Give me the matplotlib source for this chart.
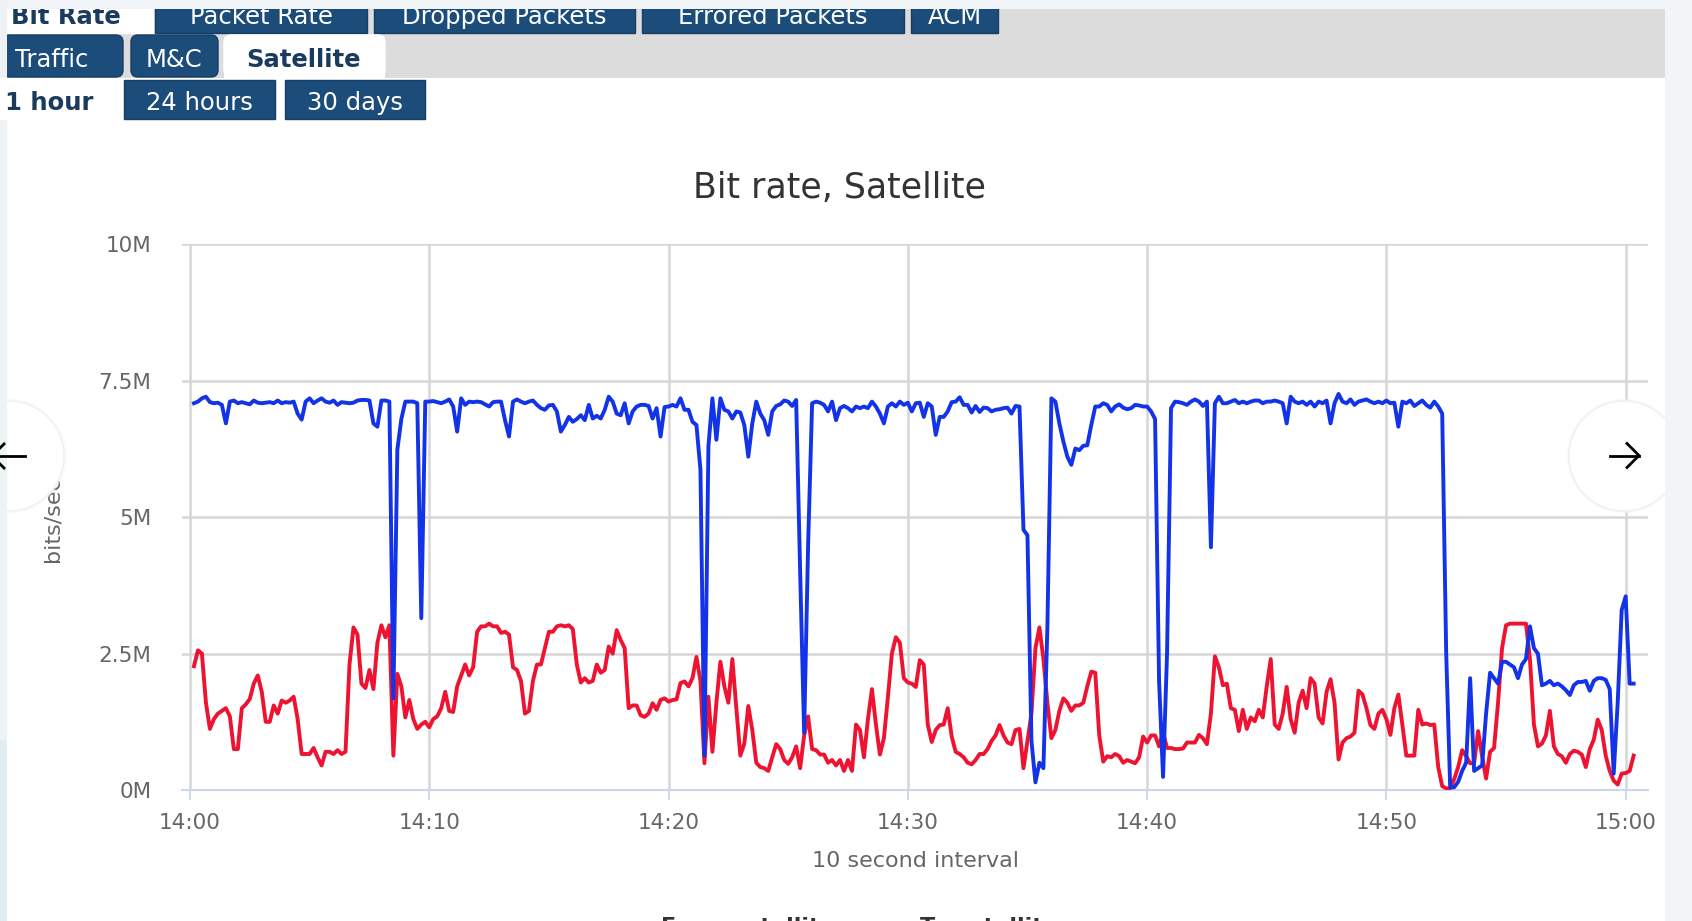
import numpy as np
import pandas as pd
import matplotlib
matplotlib.use("Agg")
import matplotlib.pyplot as plt
import matplotlib.dates as mdates
from matplotlib.patches import Rectangle, FancyBboxPatch, Circle
from matplotlib.lines import Line2D

W, H, DPI = 1692, 921, 100

# ---------------- data (Mbit/s, one sample every 10 s) ----------------
start_time = "2019-06-01 14:00:10"
interval = "10s"
series_names = ["From satellite", "To satellite"]

from_satellite = [
    2.27, 2.56, 2.50, 1.60, 1.12, 1.30, 1.40, 1.45, 1.50, 1.35,
    0.75, 0.75, 1.50, 1.57, 1.67, 1.95, 2.10, 1.80, 1.25, 1.25,
    1.55, 1.40, 1.64, 1.60, 1.64, 1.71, 1.30, 0.66, 0.66, 0.66,
    0.77, 0.60, 0.45, 0.70, 0.70, 0.66, 0.73, 0.66, 0.70, 2.30,
    2.98, 2.85, 1.95, 1.87, 2.20, 1.85, 2.70, 3.02, 2.80, 3.02,
    0.63, 2.13, 1.90, 1.33, 1.65, 1.30, 1.12, 1.20, 1.25, 1.15,
    1.30, 1.35, 1.50, 1.80, 1.45, 1.43, 1.90, 2.10, 2.30, 2.10,
    2.25, 2.90, 3.00, 3.00, 3.05, 3.00, 3.00, 2.88, 2.90, 2.85,
    2.25, 2.20, 2.00, 1.40, 1.45, 2.00, 2.30, 2.30, 2.60, 2.90,
    2.90, 3.00, 3.02, 3.00, 3.02, 2.95, 2.30, 1.97, 2.05, 1.97,
    2.00, 2.30, 2.15, 2.20, 2.63, 2.50, 2.93, 2.75, 2.60, 1.50,
    1.55, 1.55, 1.37, 1.34, 1.40, 1.59, 1.47, 1.65, 1.68, 1.62,
    1.65, 1.66, 1.96, 1.99, 1.90, 2.05, 2.44, 2.00, 0.49, 1.71,
    0.70, 1.60, 2.35, 1.90, 1.60, 2.40, 1.50, 0.63, 0.85, 1.54,
    1.10, 0.50, 0.42, 0.40, 0.35, 0.60, 0.84, 0.75, 0.55, 0.48,
    0.60, 0.80, 0.40, 1.00, 1.35, 0.75, 0.73, 0.65, 0.65, 0.50,
    0.55, 0.45, 0.55, 0.35, 0.55, 0.35, 1.20, 1.10, 0.60, 1.30,
    1.85, 1.20, 0.65, 0.95, 1.70, 2.50, 2.80, 2.70, 2.05, 1.97,
    1.95, 1.89, 2.38, 2.30, 1.20, 0.88, 1.10, 1.19, 1.20, 1.50,
    0.98, 0.70, 0.66, 0.60, 0.50, 0.47, 0.55, 0.66, 0.66, 0.75,
    0.90, 1.00, 1.19, 1.00, 0.87, 0.84, 1.10, 1.12, 0.40, 0.90,
    1.40, 2.60, 2.98, 2.40, 1.60, 0.95, 1.10, 1.45, 1.68, 1.60,
    1.45, 1.55, 1.55, 1.60, 1.90, 2.17, 2.15, 1.00, 0.52, 0.62,
    0.60, 0.66, 0.62, 0.50, 0.55, 0.52, 0.49, 0.60, 0.98, 0.87,
    1.00, 1.00, 0.80, 1.05, 0.77, 0.77, 0.75, 0.75, 0.76, 0.87,
    0.87, 0.87, 1.01, 0.95, 0.84, 1.40, 2.45, 2.25, 1.92, 1.95,
    1.50, 1.47, 1.08, 1.47, 1.12, 1.33, 1.26, 1.47, 1.33, 1.90,
    2.40, 1.20, 1.12, 1.40, 1.89, 1.30, 1.05, 1.60, 1.82, 1.50,
    2.05, 1.95, 1.33, 1.22, 1.80, 2.03, 1.60, 0.56, 0.87, 0.95,
    0.98, 1.05, 1.82, 1.75, 1.50, 1.19, 1.12, 1.40, 1.47, 1.30,
    1.01, 1.50, 1.75, 1.20, 0.63, 0.63, 0.63, 1.47, 1.20, 1.22,
    1.19, 1.20, 0.42, 0.07, 0.03, 0.03, 0.20, 0.42, 0.73, 0.62,
    0.49, 0.49, 1.08, 0.62, 0.21, 0.70, 0.77, 1.60, 2.60, 3.02,
    3.05, 3.05, 3.05, 3.05, 3.05, 2.40, 1.20, 0.80, 0.85, 1.00,
    1.45, 0.80, 0.66, 0.62, 0.50, 0.66, 0.72, 0.70, 0.65, 0.42,
    0.75, 0.92, 1.29, 1.10, 0.63, 0.35, 0.17, 0.10, 0.30, 0.31,
    0.35, 0.63,
]

to_satellite = [
    7.09, 7.12, 7.18, 7.21, 7.11, 7.09, 7.10, 7.06, 6.72, 7.12,
    7.14, 7.09, 7.11, 7.09, 7.07, 7.14, 7.10, 7.09, 7.10, 7.11,
    7.09, 7.14, 7.09, 7.11, 7.10, 7.12, 6.90, 6.79, 7.12, 7.18,
    7.09, 7.14, 7.18, 7.12, 7.10, 7.14, 7.06, 7.11, 7.10, 7.09,
    7.10, 7.14, 7.15, 7.15, 7.14, 6.72, 6.66, 7.14, 7.14, 7.12,
    1.68, 6.24, 6.80, 7.12, 7.12, 7.12, 7.09, 3.15, 7.12, 7.12,
    7.13, 7.11, 7.09, 7.12, 7.16, 7.03, 6.57, 7.18, 7.06, 7.12,
    7.11, 7.12, 7.11, 7.07, 7.03, 7.11, 7.12, 7.12, 6.78, 6.48,
    7.12, 7.16, 7.12, 7.09, 7.12, 7.14, 7.06, 7.00, 6.97, 7.05,
    7.06, 6.94, 6.57, 6.69, 6.84, 6.75, 6.80, 6.87, 6.78, 7.06,
    6.81, 6.86, 6.81, 6.97, 7.21, 7.12, 6.90, 6.87, 7.09, 6.72,
    6.94, 7.03, 7.06, 7.06, 7.04, 6.81, 7.00, 6.48, 7.02, 7.03,
    7.06, 7.03, 7.18, 6.97, 6.97, 6.75, 6.69, 5.87, 0.63, 6.30,
    7.18, 6.42, 7.18, 6.97, 6.94, 6.81, 6.94, 6.92, 6.69, 6.11,
    6.72, 7.12, 6.90, 6.78, 6.51, 6.94, 7.04, 7.07, 7.14, 7.12,
    7.04, 7.15, 4.00, 1.05, 4.50, 7.09, 7.12, 7.10, 7.06, 6.94,
    7.12, 6.78, 7.00, 7.04, 7.00, 6.94, 7.03, 7.00, 7.03, 7.00,
    7.12, 7.03, 6.90, 6.72, 7.03, 7.09, 7.03, 7.12, 7.06, 7.10,
    6.94, 7.09, 7.10, 6.84, 7.09, 7.03, 6.51, 6.84, 6.84, 6.94,
    7.11, 7.12, 7.20, 7.06, 7.06, 6.92, 7.04, 6.93, 7.01, 7.00,
    6.94, 6.97, 6.98, 7.00, 7.01, 6.90, 7.04, 7.03, 4.77, 4.67,
    0.90, 0.14, 0.50, 0.40, 3.00, 7.18, 7.12, 6.72, 6.39, 6.11,
    5.96, 6.26, 6.23, 6.31, 6.32, 6.69, 7.03, 7.03, 7.09, 7.06,
    6.94, 7.03, 7.07, 7.01, 6.98, 7.00, 7.06, 7.05, 7.03, 7.03,
    6.94, 6.80, 2.00, 0.24, 2.50, 7.00, 7.12, 7.11, 7.09, 7.06,
    7.12, 7.16, 7.12, 7.04, 7.12, 4.45, 7.09, 7.21, 7.09, 7.09,
    7.12, 7.15, 7.09, 7.12, 7.09, 7.12, 7.14, 7.14, 7.09, 7.12,
    7.12, 7.14, 7.12, 7.09, 6.72, 7.21, 7.12, 7.09, 7.12, 7.06,
    7.12, 7.03, 7.12, 7.09, 7.14, 6.72, 7.09, 7.26, 7.12, 7.09,
    7.16, 7.06, 7.12, 7.14, 7.16, 7.12, 7.09, 7.12, 7.09, 7.14,
    7.09, 7.10, 6.66, 7.12, 7.09, 7.14, 7.04, 7.09, 7.14, 7.06,
    7.01, 7.12, 7.03, 6.90, 2.50, 0.05, 0.05, 0.15, 0.35, 0.50,
    2.05, 0.35, 0.40, 0.45, 1.40, 2.15, 2.05, 1.95, 2.35, 2.35,
    2.30, 2.25, 2.05, 2.30, 2.40, 3.00, 2.60, 2.50, 1.92, 1.95,
    2.00, 1.92, 1.95, 1.90, 1.83, 1.74, 1.92, 1.98, 1.98, 2.00,
    1.82, 2.00, 2.05, 2.05, 2.02, 1.85, 0.30, 1.60, 3.30, 3.55,
    1.95, 1.95,
]

y_ticks = [0, 2.5, 5, 7.5, 10]
y_tick_labels = ["0M", "2.5M", "5M", "7.5M", "10M"]
chart_title = "Bit rate, Satellite"
x_title = "10 second interval"
y_title = "bits/sec"

tabs_metric = ["Bit Rate", "Packet Rate", "Dropped Packets", "Errored Packets", "ACM"]
tabs_group = ["Traffic", "M&C", "Satellite"]
tabs_range = ["1 hour", "24 hours", "30 days"]

# ---------------- styling ----------------
RED = "#ee1331"
BLUE = "#1233e8"
TAB = "#1c4c7a"
TAB_EDGE = "#163d63"
NAVY = "#1a3b5d"
GRID = "#d6d6d6"
LABEL = "#666666"

plt.rcParams["font.family"] = ["DejaVu Sans"]

fig = plt.figure(figsize=(W / DPI, H / DPI), dpi=DPI)
fig.patch.set_facecolor("white")


def fx(x):
    return x / W


def fy(y):
    return 1 - y / H


# background layer in pixel coordinates
bg = fig.add_axes([0, 0, 1, 1], zorder=0)
bg.set_xlim(0, W)
bg.set_ylim(H, 0)
bg.axis("off")

bg.add_patch(Rectangle((8, 9), 1665 - 8, 78 - 9, color="#dcdcdc", lw=0))

# row 1 tabs (metric)
row1 = [(7, 153), (155, 367), (374, 635), (642, 904), (911, 998)]
for k, (name, (x0, x1)) in enumerate(zip(tabs_metric, row1)):
    active = k == 0
    bg.add_patch(Rectangle((x0, 4), x1 - x0, 33.3 - 4,
                           facecolor="white" if active else TAB,
                           edgecolor="white" if active else TAB_EDGE, lw=1))
    if active:
        bg.text(11, 24, name, ha="left", va="baseline", fontsize=17.5,
                fontweight="bold", color=NAVY)
    else:
        bg.text((x0 + x1) / 2, 24, name, ha="center", va="baseline",
                fontsize=17.5, color="white")

# row 2 tabs (group)
row2 = [(2, 123), (131, 218), (224, 385)]
for k, (name, (x0, x1)) in enumerate(zip(tabs_group, row2)):
    active = k == 2
    bg.add_patch(FancyBboxPatch((x0, 35), x1 - x0, 77 - 35,
                                boxstyle="round,pad=0,rounding_size=7",
                                facecolor="white" if active else TAB,
                                edgecolor="white" if active else TAB_EDGE, lw=1))
    if active:
        bg.add_patch(Rectangle((x0, 60), x1 - x0, 18, facecolor="white", lw=0))
        bg.text((x0 + x1) / 2 - 1, 67, name, ha="center", va="baseline",
                fontsize=17.5, fontweight="bold", color=NAVY)
    elif k == 0:
        bg.text(15, 67, name, ha="left", va="baseline", fontsize=17.5, color="white")
    else:
        bg.text((x0 + x1) / 2, 67, name, ha="center", va="baseline",
                fontsize=17.5, color="white")

# row 3 tabs (time range)
bg.text(5, 110, tabs_range[0], ha="left", va="baseline", fontsize=17.5,
        fontweight="bold", color=NAVY)
row3 = [(124, 275), (285, 425)]
for name, (x0, x1) in zip(tabs_range[1:], row3):
    bg.add_patch(Rectangle((x0, 80), x1 - x0, 119 - 80, facecolor=TAB,
                           edgecolor=TAB_EDGE, lw=1))
    bg.text((x0 + x1) / 2, 110, name, ha="center", va="baseline",
            fontsize=17.5, color="white")

# ---------------- chart ----------------
ax = fig.add_axes([fx(182), fy(790), (1648 - 182) / W, (790 - 244.5) / H], zorder=5)
ax.set_facecolor("white")
times = pd.date_range(start_time, periods=len(to_satellite), freq=interval)

ax.plot(times, from_satellite, color=RED, lw=2.8, solid_joinstyle="round",
        label=series_names[0], zorder=3)
ax.plot(times, to_satellite, color=BLUE, lw=2.8, solid_joinstyle="round",
        label=series_names[1], zorder=4)

ax.set_ylim(0, 10)
ax.set_xlim(pd.Timestamp("2019-06-01 13:59:40"), pd.Timestamp("2019-06-01 15:00:56"))
ax.xaxis.set_major_locator(mdates.MinuteLocator(byminute=range(0, 60, 10)))
ax.xaxis.set_major_formatter(mdates.DateFormatter("%H:%M"))
ax.set_yticks(y_ticks, y_tick_labels)

ax.grid(True, color=GRID, lw=1.8, zorder=0)
ax.set_axisbelow(True)
for s in ["left", "right", "top"]:
    ax.spines[s].set_visible(False)
ax.spines["bottom"].set_color("#ccd6eb")
ax.spines["bottom"].set_linewidth(1.5)

ax.tick_params(axis="x", direction="out", length=7, width=1.3, color="#ccd6eb",
               pad=9.5, labelsize=15.5, labelcolor=LABEL)
ax.tick_params(axis="y", length=0, pad=22, labelsize=15.5, labelcolor=LABEL)

fig.text(fx(839), fy(188), chart_title, ha="center", va="center",
         fontsize=25, color="#333333")
fig.text(fx(915), fy(861), x_title, ha="center", va="center",
         fontsize=16, color=LABEL)
fig.text(fx(52), fy(519), y_title, ha="center", va="center", rotation=90,
         fontsize=16, color=LABEL)

# legend (cut off at bottom of the screenshot, as in the original)
fig.text(fx(661), fy(933), series_names[0], ha="left", va="baseline",
         fontsize=16, fontweight="bold", color="#333333")
fig.text(fx(920), fy(933), series_names[1], ha="left", va="baseline",
         fontsize=16, fontweight="bold", color="#333333")

# ---------------- overlay layer (navigation circles, window edges) ----------------
fg = fig.add_axes([0, 0, 1, 1], zorder=10)
fg.set_xlim(0, W)
fg.set_ylim(H, 0)
fg.axis("off")
fg.patch.set_alpha(0)

for cx in (9, 1624):
    fg.add_patch(Circle((cx, 456), 57, facecolor="#f6f6f6", edgecolor="none", alpha=0.6))
    fg.add_patch(Circle((cx, 456), 55, facecolor="white", edgecolor="#f0f0f0", lw=1))

# right arrow
fg.add_line(Line2D([1610, 1639], [455.5, 455.5], color="black", lw=2.0))
fg.add_line(Line2D([1627, 1639, 1627], [443.5, 455.5, 467.5], color="black", lw=2.0,
                   solid_joinstyle="miter"))
# left arrow (partly hidden)
fg.add_line(Line2D([-8, 25], [456, 456], color="black", lw=2.0))
fg.add_line(Line2D([4, -8, 4], [444, 456, 468], color="black", lw=2.0))

# window edges
fg.add_patch(Rectangle((0, 0), W, 9, color="#f1f4f7", lw=0))
fg.add_patch(Rectangle((0, 0), 7, 78, color="#eef2f5", lw=0))
fg.add_patch(Rectangle((0, 120), 7, H - 120, color="#eef3f6", lw=0))
fg.add_patch(Rectangle((0, 740), 7, H - 740, color="#e2ecf3", lw=0))
fg.add_patch(Rectangle((1665, 0), W - 1665, H, color="#f3f4f5", lw=0))

fig.savefig("out.png", dpi=DPI, facecolor="white")
